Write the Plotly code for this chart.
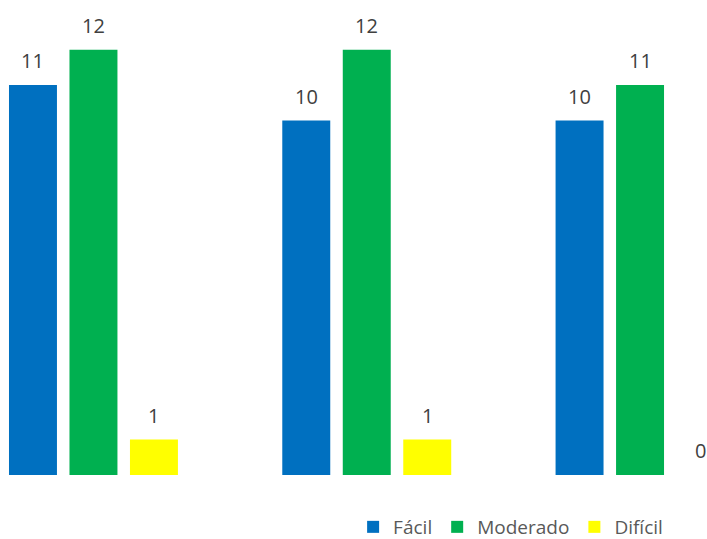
import plotly.graph_objects as go

categories = ["A", "B", "C"]
series_names = ["Fácil", "Moderado", "Difícil"]
facil = [11, 10, 10]
moderado = [12, 12, 11]
dificil = [1, 1, 0]
colors = ["#0070C0", "#00B050", "#FFFF00"]

values = [facil, moderado, dificil]
xs = [0, 1, 2]

fig = go.Figure()
for name, vals, col in zip(series_names, values, colors):
    fig.add_trace(go.Bar(x=xs, y=vals, name=name, marker=dict(color=col, line=dict(width=0))))

# value labels above bars
slot = (1 - 0.336) / 3
for j, vals in enumerate(values):
    for i, v in zip(xs, vals):
        fig.add_annotation(x=i + (j - 1) * slot, y=v, text=str(v), showarrow=False,
                           xref="x", yref="y", yanchor="bottom", yshift=9,
                           font=dict(family="Open Sans", size=20, color="#404040"))

fig.update_layout(
    width=707, height=539,
    barmode="group", bargap=0.336, bargroupgap=0.207,
    plot_bgcolor="white", paper_bgcolor="white",
    margin=dict(l=0, r=0, t=0, b=64),
    xaxis=dict(range=[-0.342, 2.245], showticklabels=False, showgrid=False, zeroline=False, showline=False, ticks=""),
    yaxis=dict(range=[0, 13.4], showticklabels=False, showgrid=False, zeroline=False, showline=False, ticks=""),
    showlegend=True,
    legend=dict(orientation="h", xref="container", yref="container", x=0.945, xanchor="right",
                y=1 - 527 / 539, yanchor="middle",
                font=dict(family="Open Sans", size=19, color="#595959"),
                itemwidth=30, tracegroupgap=0),
    font=dict(family="Open Sans"),
)

fig.write_html("out.html")
